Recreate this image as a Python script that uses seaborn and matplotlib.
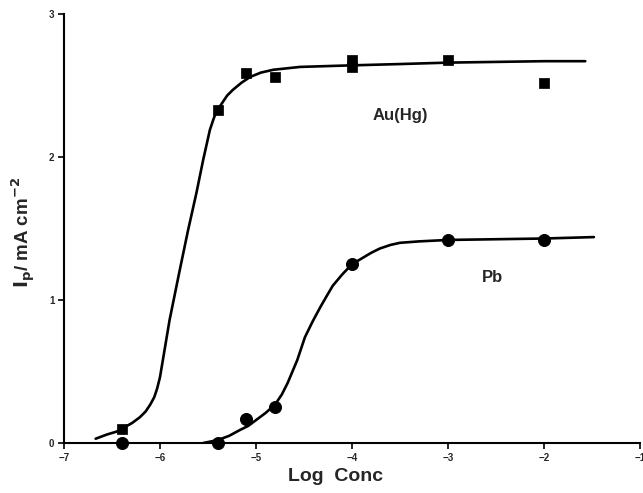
import matplotlib
matplotlib.use("Agg")
import matplotlib.pyplot as plt
import seaborn as sns
import pandas as pd

# ---- data ----
au_x = [-6.4, -5.4, -5.1, -4.8, -4.0, -4.0, -3.0, -2.0]
au_y = [0.10, 2.33, 2.59, 2.56, 2.63, 2.68, 2.68, 2.52]

pb_x = [-6.4, -5.4, -5.1, -4.8, -4.0, -3.0, -2.0]
pb_y = [0.00, 0.00, 0.17, 0.25, 1.25, 1.42, 1.42]

au_curve_x = [-6.67, -6.55, -6.45, -6.37, -6.29, -6.21, -6.15, -6.10, -6.06, -6.03,
              -6.00, -5.97, -5.90, -5.80, -5.71, -5.62, -5.55, -5.51, -5.48, -5.44,
              -5.41, -5.35, -5.30, -5.24, -5.15, -5.06, -4.95, -4.82, -4.68, -4.54,
              -4.05, -3.50, -3.00, -2.50, -2.00, -1.57]
au_curve_y = [0.03, 0.06, 0.08, 0.11, 0.14, 0.18, 0.22, 0.27, 0.32, 0.38,
              0.46, 0.58, 0.86, 1.19, 1.48, 1.75, 1.98, 2.10, 2.19, 2.27,
              2.32, 2.38, 2.43, 2.47, 2.52, 2.56, 2.59, 2.61, 2.62, 2.63,
              2.64, 2.65, 2.66, 2.665, 2.67, 2.67]

pb_curve_x = [-5.55, -5.40, -5.28, -5.17, -5.08, -5.00, -4.90, -4.80, -4.73, -4.67,
              -4.62, -4.57, -4.53, -4.49, -4.41, -4.33, -4.27, -4.20, -4.10, -4.00,
              -3.90, -3.80, -3.71, -3.60, -3.50, -3.30, -3.00, -2.50, -2.00, -1.48]
pb_curve_y = [0.00, 0.02, 0.05, 0.09, 0.12, 0.16, 0.21, 0.27, 0.34, 0.42,
              0.50, 0.58, 0.66, 0.74, 0.85, 0.95, 1.02, 1.10, 1.18, 1.25,
              1.29, 1.33, 1.36, 1.385, 1.40, 1.41, 1.42, 1.425, 1.43, 1.44]

x_ticks = [-7, -6, -5, -4, -3, -2, -1]
y_ticks = [0, 1, 2, 3]

sns.set_style("ticks")
plt.rcParams['font.family'] = ['Liberation Sans', 'DejaVu Sans']

fig = plt.figure(figsize=(6.43, 4.93), dpi=100)
ax = fig.add_axes([0.0995, 0.1014, 0.8958, 0.8702])

au_curve = pd.DataFrame({"x": au_curve_x, "y": au_curve_y})
pb_curve = pd.DataFrame({"x": pb_curve_x, "y": pb_curve_y})
sns.lineplot(data=au_curve, x="x", y="y", sort=False, estimator=None,
             color="black", linewidth=1.9, ax=ax)
sns.lineplot(data=pb_curve, x="x", y="y", sort=False, estimator=None,
             color="black", linewidth=1.9, ax=ax)

au_pts = pd.DataFrame({"x": au_x, "y": au_y})
pb_pts = pd.DataFrame({"x": pb_x, "y": pb_y})
sns.scatterplot(data=au_pts, x="x", y="y", marker="s", s=42, color="black",
                edgecolor="black", ax=ax, zorder=5, clip_on=False)
sns.scatterplot(data=pb_pts, x="x", y="y", marker="o", s=75, color="black",
                edgecolor="black", ax=ax, zorder=5, clip_on=False)

ax.set_xlim(-7, -1)
ax.set_ylim(0, 3)
ax.set_xticks(x_ticks)
ax.set_yticks(y_ticks)
ax.set_xticklabels([f"\u2212{abs(t)}" for t in x_ticks], fontsize=7, fontweight="bold")
ax.set_yticklabels([str(t) for t in y_ticks], fontsize=7, fontweight="bold")
ax.tick_params(axis="both", direction="out", length=4, width=1.2, color="black", pad=3)

for s in ["top", "right"]:
    ax.spines[s].set_visible(False)
for s in ["left", "bottom"]:
    ax.spines[s].set_linewidth(1.5)
    ax.spines[s].set_color("black")

ax.set_xlabel("Log  Conc", fontsize=14, fontweight="bold")
ax.xaxis.set_label_coords(0.472, -0.058)
ax.set_ylabel(r"$\mathbf{I_p}$/ mA cm$^{\mathbf{-2}}$", fontsize=13.5,
              fontweight="bold")
ax.yaxis.set_label_coords(-0.045, 0.49)

ax.text(-3.5, 2.29, "Au(Hg)", fontsize=12, fontweight="bold", ha="center", va="center")
ax.text(-2.54, 1.16, "Pb", fontsize=12, fontweight="bold", ha="center", va="center")

fig.savefig("out.png", dpi=100)
